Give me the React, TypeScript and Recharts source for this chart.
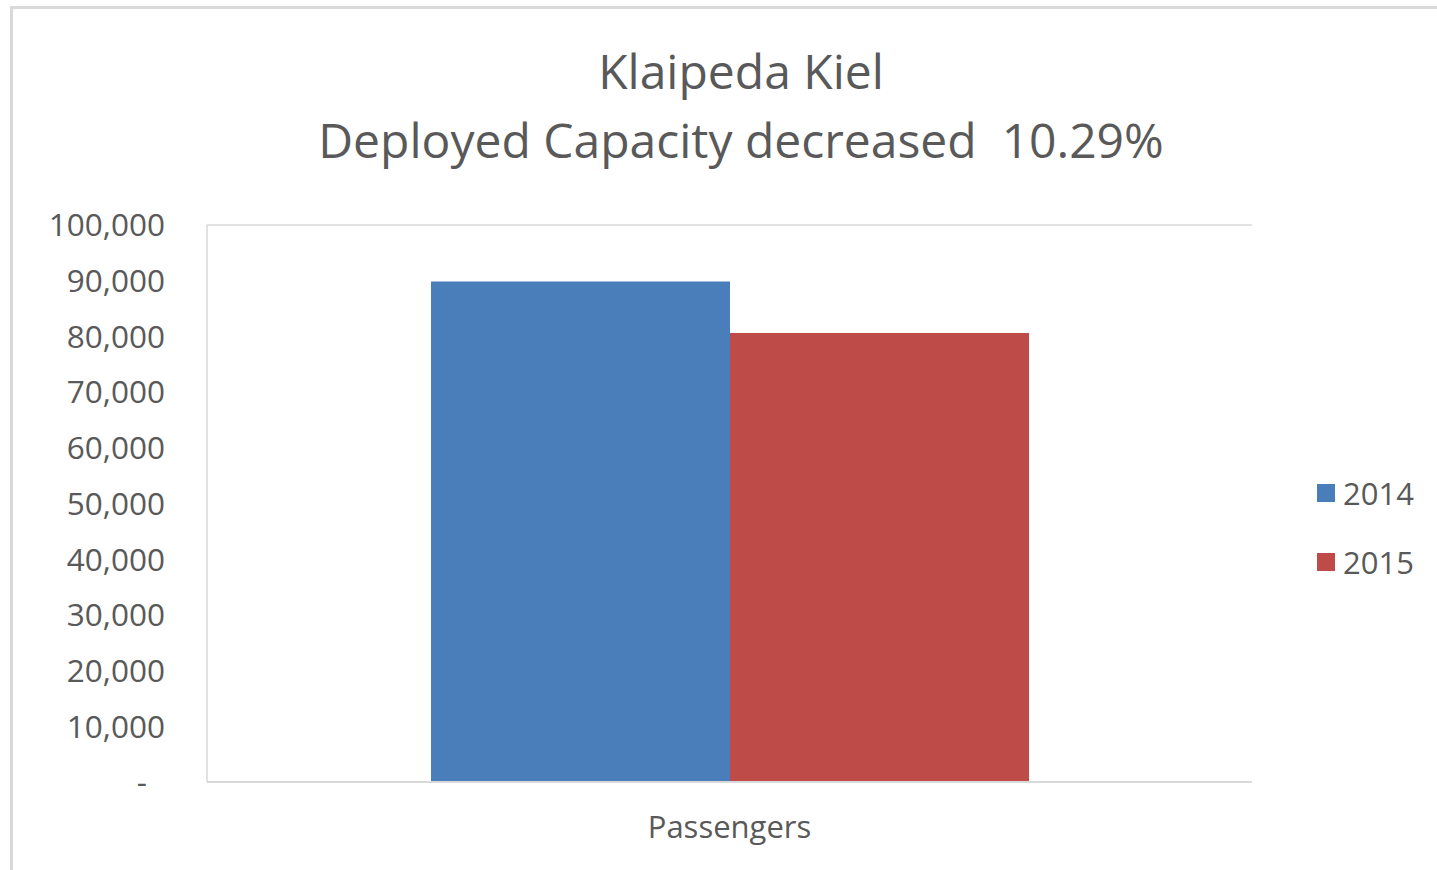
import { Bar, BarChart, CartesianGrid, XAxis, YAxis } from 'recharts'

const categories = ['Passengers']
const seriesNames = ['2014', '2015']
const values2014 = [89850]
const values2015 = [80600]
const yTicks = [0, 10000, 20000, 30000, 40000, 50000, 60000, 70000, 80000, 90000, 100000]
const colors = ['#4a7ebb', '#be4b48']

const data = categories.map((c, i) => ({
  name: c,
  '2014': values2014[i],
  '2015': values2015[i],
}))

const FONT = '"Open Sans", "Noto Sans", sans-serif'
const TEXT = '#595959'

function YTick({ x, y, payload }: any) {
  const v = payload.value as number
  const label = v === 0 ? '-' : v.toLocaleString('en-US')
  return (
    <text
      x={v === 0 ? x - 18 : x}
      y={y}
      dy="0.36em"
      textAnchor="end"
      fill={TEXT}
      fontSize={31.5}
      fontFamily={FONT}
    >
      {label}
    </text>
  )
}

export default function App() {
  return (
    <div
      style={{
        position: 'absolute',
        left: 0,
        top: 0,
        width: 1437,
        height: 870,
        overflow: 'hidden',
        background: '#fff',
      }}
    >
      <div
        style={{
          position: 'absolute',
          left: 10,
          top: 6,
          width: 1500,
          height: 900,
          border: '3px solid #d9d9d9',
        }}
      />
      <div
        style={{
          position: 'absolute',
          left: 0,
          width: 1482,
          top: 36,
          textAlign: 'center',
          fontFamily: FONT,
          fontSize: 48,
          lineHeight: '69px',
          color: TEXT,
        }}
      >
        <div>Klaipeda Kiel</div>
        <div>Deployed Capacity decreased&nbsp; 10.29%</div>
      </div>
      <div style={{ position: 'absolute', left: 0, top: 0 }}>
        <BarChart
          width={1437}
          height={870}
          data={data}
          margin={{ top: 225, right: 185, left: 0, bottom: 28 }}
          barCategoryGap={224}
          barGap={0}
        >
          <CartesianGrid stroke="#d9d9d9" strokeWidth={1.5} vertical={false} />
          <XAxis
            dataKey="name"
            height={60}
            axisLine={{ stroke: '#d9d9d9', strokeWidth: 2 }}
            tickLine={false}
            tickSize={0}
            tickMargin={34}
            tick={{ fill: TEXT, fontSize: 31, fontFamily: FONT }}
          />
          <YAxis
            yAxisId="left"
            width={207}
            domain={[0, 100000]}
            ticks={yTicks}
            interval={0}
            axisLine={{ stroke: '#d9d9d9', strokeWidth: 1.5 }}
            tickLine={false}
            tickSize={0}
            tickMargin={42}
            tick={<YTick />}
          />
          <YAxis
            yAxisId="right"
            orientation="right"
            width={0}
            domain={[0, 100000]}
            ticks={yTicks}
            tick={false}
            tickLine={false}
            axisLine={{ stroke: '#d9d9d9', strokeWidth: 1.5 }}
          />
          {seriesNames.map((s, i) => (
            <Bar key={s} yAxisId="left" dataKey={s} name={s} fill={colors[i]} isAnimationActive={false} />
          ))}
        </BarChart>
      </div>
      <div style={{ position: 'absolute', left: 1317, top: 458, fontFamily: FONT }}>
        {seriesNames.map((s, i) => (
          <div key={s} style={{ display: 'flex', alignItems: 'center', height: 69 }}>
            <span
              style={{ width: 18, height: 18, background: colors[i], display: 'inline-block', marginRight: 8 }}
            />
            <span style={{ fontSize: 31, color: TEXT }}>{s}</span>
          </div>
        ))}
      </div>
    </div>
  )
}
